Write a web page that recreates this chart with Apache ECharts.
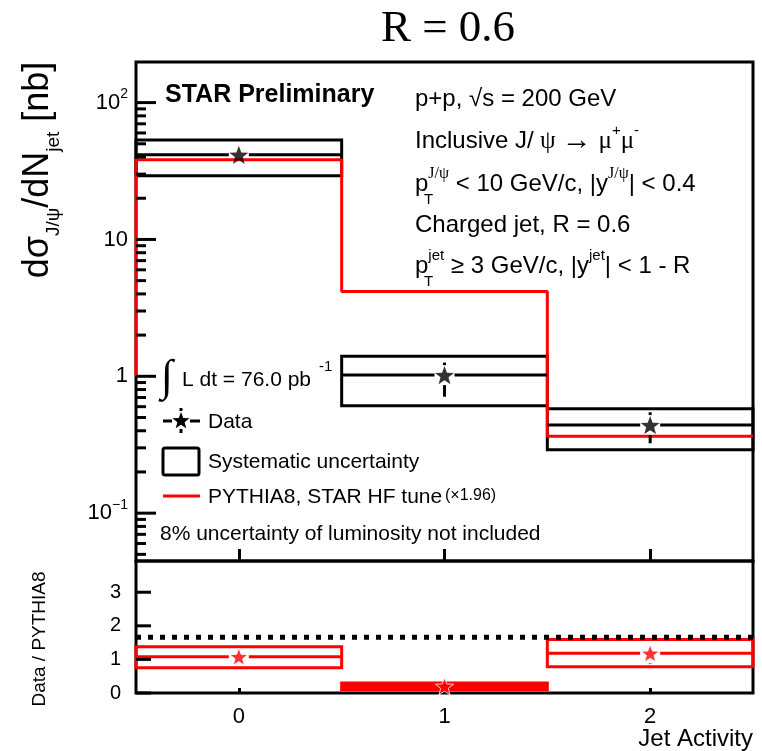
<!DOCTYPE html>
<html>
<head>
<meta charset="utf-8">
<script src="https://cdn.jsdelivr.net/npm/echarts@6/dist/echarts.min.js"></script>
<style>
html, body { margin: 0; padding: 0; background: #fff; }
#main { width: 762px; height: 751px; }
</style>
</head>
<body>
<div id="main"></div>
<script>
// bins of jet activity
var jetActivity = [0, 1, 2];
var binEdges = [-0.5, 0.5, 1.5, 2.5];

// top panel: dsigma/dNjet [nb]
var dataValues = [41.5, 1.02, 0.44];
var statLow = [36.5, 0.71, 0.324];
var statHigh = [46.5, 1.26, 0.546];
var sysLow = [29.2, 0.61, 0.29];
var sysHigh = [53.4, 1.40, 0.58];
var pythiaValues = [38.2, 4.17, 0.365];
var pythiaBase = 1.0;

// bottom panel: Data / PYTHIA8
var ratioValues = [1.08, 0.2, 1.18];
var ratioStatLow = [1.0, 0.15, 0.86];
var ratioStatHigh = [1.16, 0.25, 1.42];
var ratioSysLow = [0.75, 0.1, 0.78];
var ratioSysHigh = [1.38, 0.3, 1.59];
var ratioRefLine = 1.66;

// axis ticks
var xTicks = [0, 1, 2];
var logMajorTicks = [0.1, 1, 10, 100];
var logMinorTicks = [0.05, 0.06, 0.07, 0.08, 0.09,
  0.2, 0.3, 0.4, 0.5, 0.6, 0.7, 0.8, 0.9,
  2, 3, 4, 5, 6, 7, 8, 9,
  20, 30, 40, 50, 60, 70, 80, 90];
var ratioTicks = [0, 1, 2, 3];

var F = 'Liberation Sans';
var SERIF = 'Liberation Serif';
var mychart = echarts.init(document.getElementById('main'));

function starPoints(cx, cy, r) {
  var pts = [];
  for (var i = 0; i < 10; i++) {
    var a = -Math.PI / 2 + i * Math.PI / 5;
    var rr = i % 2 === 0 ? r : r * 0.42;
    pts.push([cx + rr * Math.cos(a), cy + rr * Math.sin(a)]);
  }
  return pts;
}
var starPath = 'path://' + starPoints(50, 50, 50).map(function (p, i) {
  return (i ? 'L' : 'M') + p[0].toFixed(1) + ',' + p[1].toFixed(1);
}).join(' ') + ' Z';

function boxRender(color) {
  return function (params, api) {
    var x = api.value(0);
    var a = api.coord([x - 0.5, api.value(2)]);
    var b = api.coord([x + 0.5, api.value(1)]);
    var h = b[1] - a[1];
    return {
      type: 'rect',
      shape: { x: a[0], y: a[1], width: b[0] - a[0], height: h },
      style: { stroke: color, lineWidth: 3, fill: h < 10 ? color : 'none' }
    };
  };
}

function barsRender(color, gap) {
  return function (params, api) {
    var x = api.value(0), y = api.value(1);
    var c = api.coord([x, y]);
    var l = api.coord([x - 0.5, y]);
    var r = api.coord([x + 0.5, y]);
    var lo = api.coord([x, api.value(2)]);
    var hi = api.coord([x, api.value(3)]);
    var st = { stroke: color, lineWidth: 3 };
    var kids = [
      { type: 'line', shape: { x1: l[0], y1: c[1], x2: c[0] - gap, y2: c[1] }, style: st },
      { type: 'line', shape: { x1: c[0] + gap, y1: c[1], x2: r[0], y2: c[1] }, style: st }
    ];
    if (hi[1] < c[1] - gap) kids.push({ type: 'line', shape: { x1: c[0], y1: hi[1], x2: c[0], y2: c[1] - gap }, style: st });
    if (lo[1] > c[1] + gap) kids.push({ type: 'line', shape: { x1: c[0], y1: c[1] + gap, x2: c[0], y2: lo[1] }, style: st });
    return { type: 'group', children: kids };
  };
}

// short inner ticks for the log axis
function minorTickRender(params, api) {
  var p = api.coord([api.value(0), api.value(1)]);
  return { type: 'line', shape: { x1: p[0], y1: p[1], x2: p[0] + 10, y2: p[1] }, style: { stroke: '#000', lineWidth: 3 } };
}

var pythiaStep = [[binEdges[0], pythiaBase]];
pythiaValues.forEach(function (v, i) {
  pythiaStep.push([binEdges[i], v], [binEdges[i + 1], v]);
});

function zip(a, b, c) {
  return jetActivity.map(function (x, i) {
    var row = [x, a[i], b[i]];
    if (c) row.push(c[i]);
    return row;
  });
}

function logLabel(v) {
  var lg = Math.log10(v);
  var e = Math.round(lg);
  if (Math.abs(lg - e) > 1e-6) return '';
  if (e === 0) return '{b|1}';
  if (e === 1) return '{b|10}';
  return '{b|10}{s|' + (e < 0 ? '\u2212' + (-e) : e) + '}';
}

var axisBlack = { color: '#000', width: 3 };

var rtRich = {
  n: { fontFamily: F, fontSize: 24, lineHeight: 36, verticalAlign: 'middle', fill: '#000' },
  g: { fontFamily: SERIF, fontSize: 25, lineHeight: 36, verticalAlign: 'middle', fill: '#000' },
  a: { fontFamily: SERIF, fontSize: 30, lineHeight: 36, verticalAlign: 'middle', fill: '#000' },
  u: { fontFamily: F, fontSize: 15, lineHeight: 16, verticalAlign: 'top', fill: '#000' },
  ug: { fontFamily: SERIF, fontSize: 16, lineHeight: 16, verticalAlign: 'top', fill: '#000' }
};

function text(x, y, str, size, opts) {
  opts = opts || {};
  return {
    type: 'text', x: x, y: y, rotation: opts.rotation || 0, z: 20,
    style: {
      text: str, fill: '#000',
      fontFamily: opts.family || F, fontSize: size, fontWeight: opts.weight || 'normal',
      align: opts.align || 'left', verticalAlign: 'middle',
      textAlign: opts.align || 'left', textVerticalAlign: 'middle',
      rich: opts.rich
    }
  };
}

var legendStar = starPoints(181, 421, 9);

var graphics = [
  text(448, 29, 'R = 0.6', 45, { family: SERIF, align: 'center' }),
  text(38, 170, '{n|d\u03c3}{d|J/\u03c8}{n|/dN}{d|jet}{n| [nb]}', 36, {
    rotation: Math.PI / 2, align: 'center',
    rich: {
      n: { fontFamily: F, fontSize: 36, lineHeight: 50, verticalAlign: 'middle', fill: '#000' },
      d: { fontFamily: F, fontSize: 19, lineHeight: 20, verticalAlign: 'bottom', fill: '#000' }
    }
  }),
  text(40, 639, 'Data / PYTHIA8', 19, { rotation: Math.PI / 2, align: 'center' }),
  text(753, 739, 'Jet Activity', 24, { align: 'right' }),
  text(165, 95, 'STAR Preliminary', 25, { weight: 'bold' }),
  text(415, 99, '{n|p+p, \u221as = 200 GeV}', 24, { rich: rtRich }),
  text(415, 141, '{n|Inclusive J/}{g| \u03c8 }{a|\u2192}{n| }{g|\u03bc}{u|+}{g|\u03bc}{u|-}', 24, { rich: rtRich }),
  text(415, 184, '{n|p}{ug|J/\u03c8}{n| < 10 GeV/c, |y}{ug|J/\u03c8}{n|| < 0.4}', 24, { rich: rtRich }),
  text(424, 200, 'T', 15),
  text(415, 225, '{n|Charged jet, R = 0.6}', 24, { rich: rtRich }),
  text(415, 266, '{n|p}{u|jet}{n| \u2265 3 GeV/c, |y}{u|jet}{n|| < 1 - R}', 24, { rich: rtRich }),
  text(424, 282, 'T', 15),
  // legend
  text(161, 378, '\u222b', 44, { family: SERIF }),
  text(182, 380, 'L dt = 76.0 pb', 21),
  text(319, 367, '-1', 15),
  { type: 'line', z: 20, shape: { x1: 163, y1: 421, x2: 172, y2: 421 }, style: { stroke: '#000', lineWidth: 3 } },
  { type: 'line', z: 20, shape: { x1: 190, y1: 421, x2: 200, y2: 421 }, style: { stroke: '#000', lineWidth: 3 } },
  { type: 'line', z: 20, shape: { x1: 181, y1: 408, x2: 181, y2: 411 }, style: { stroke: '#000', lineWidth: 3 } },
  { type: 'line', z: 20, shape: { x1: 181, y1: 429, x2: 181, y2: 433 }, style: { stroke: '#000', lineWidth: 3 } },
  { type: 'polygon', z: 21, shape: { points: legendStar }, style: { fill: '#000' } },
  text(208, 422, 'Data', 21),
  { type: 'rect', z: 20, shape: { x: 163, y: 448, width: 36, height: 27, r: 2 }, style: { stroke: '#000', lineWidth: 3, fill: 'none' } },
  text(208, 462, 'Systematic uncertainty', 21),
  { type: 'line', z: 20, shape: { x1: 163, y1: 496, x2: 200, y2: 496 }, style: { stroke: '#ff0000', lineWidth: 3 } },
  text(208, 497, 'PYTHIA8, STAR HF tune', 21),
  text(445, 496, '(\u00d71.96)', 16),
  text(160, 534, '8% uncertainty of luminosity not included', 21)
];

var option = {
  animation: false,
  backgroundColor: '#fff',
  grid: [
    { left: 136, top: 62, width: 617, height: 499, show: true, borderColor: '#000', borderWidth: 3 },
    { left: 136, top: 561, width: 617, height: 132, show: true, borderColor: '#000', borderWidth: 3 }
  ],
  xAxis: [
    {
      type: 'value', gridIndex: 0, min: -0.5, max: 2.5,
      axisLine: { show: false, onZero: false },
      axisTick: { show: true, inside: true, length: 12, customValues: xTicks, lineStyle: axisBlack },
      axisLabel: { show: false },
      splitLine: { show: false }
    },
    {
      type: 'value', gridIndex: 1, min: -0.5, max: 2.5,
      axisLine: { show: false, onZero: false },
      axisTick: { show: true, inside: true, length: 5, customValues: xTicks, lineStyle: axisBlack },
      axisLabel: { customValues: xTicks, fontFamily: F, fontSize: 22, color: '#000', margin: 13 },
      splitLine: { show: false }
    }
  ],
  yAxis: [
    {
      type: 'log', gridIndex: 0, min: 0.0447, max: 198,
      axisLine: { show: false, onZero: false },
      axisTick: { show: false },
      axisLabel: {
        formatter: logLabel, margin: 8, color: '#000',
        rich: {
          b: { fontFamily: F, fontSize: 22, lineHeight: 30, verticalAlign: 'middle', color: '#000' },
          s: { fontFamily: F, fontSize: 14, lineHeight: 16, verticalAlign: 'top', color: '#000' }
        }
      },
      splitLine: { show: false }
    },
    {
      type: 'value', gridIndex: 1, min: 0, max: 3.93, interval: 1,
      axisLine: { show: false, onZero: false },
      axisTick: { show: false },
      axisLabel: { fontFamily: F, fontSize: 20, color: '#000', margin: 15, showMaxLabel: false },
      splitLine: { show: false }
    }
  ],
  graphic: graphics,
  series: [
    {
      type: 'custom', xAxisIndex: 0, yAxisIndex: 0, z: 6,
      renderItem: minorTickRender,
      data: logMinorTicks.map(function (v) { return [binEdges[0], v]; })
    },
    {
      type: 'custom', xAxisIndex: 0, yAxisIndex: 0, z: 2,
      renderItem: boxRender('#000'),
      data: zip(sysLow, sysHigh)
    },
    {
      type: 'line', xAxisIndex: 0, yAxisIndex: 0, z: 3,
      data: pythiaStep, showSymbol: false,
      lineStyle: { color: '#ff0000', width: 3 }
    },
    {
      type: 'custom', xAxisIndex: 0, yAxisIndex: 0, z: 4,
      renderItem: barsRender('#000', 10),
      data: zip(dataValues, statLow, statHigh)
    },
    {
      type: 'scatter', xAxisIndex: 0, yAxisIndex: 0, z: 5,
      symbol: starPath, symbolSize: 19, symbolKeepAspect: true,
      itemStyle: { color: '#000' },
      data: jetActivity.map(function (x, i) { return [x, dataValues[i]]; })
    },
    {
      type: 'line', xAxisIndex: 1, yAxisIndex: 1, z: 3,
      data: [[binEdges[0], ratioRefLine], [binEdges[3], ratioRefLine]], showSymbol: false,
      lineStyle: { color: '#000', width: 5, type: [5, 7] }
    },
    {
      type: 'custom', xAxisIndex: 1, yAxisIndex: 1, z: 2,
      renderItem: boxRender('#ff0000'),
      data: zip(ratioSysLow, ratioSysHigh)
    },
    {
      type: 'custom', xAxisIndex: 1, yAxisIndex: 1, z: 4,
      renderItem: barsRender('#ff0000', 10),
      data: zip(ratioValues, ratioStatLow, ratioStatHigh)
    },
    {
      type: 'scatter', xAxisIndex: 1, yAxisIndex: 1, z: 5,
      symbol: starPath, symbolSize: 18, symbolKeepAspect: true,
      itemStyle: { color: '#ff0000', borderColor: '#fff', borderWidth: 1 },
      data: jetActivity.map(function (x, i) { return [x, ratioValues[i]]; })
    }
  ]
};
mychart.setOption(option);

// long inner ticks at the labelled values, placed through the axes' own scales
function longTicks(finder, values, len) {
  return values.map(function (v) {
    var p = mychart.convertToPixel(finder, [binEdges[0], v]);
    return {
      type: 'line', z: 100, zlevel: 1,
      shape: { x1: p[0], y1: p[1], x2: p[0] + len, y2: p[1] },
      style: { stroke: '#000', lineWidth: 3 }
    };
  });
}
var tickGraphics = longTicks({ xAxisIndex: 0, yAxisIndex: 0 }, logMajorTicks, 20)
  .concat(longTicks({ xAxisIndex: 1, yAxisIndex: 1 }, ratioTicks, 15));
mychart.setOption({ graphic: graphics.concat(tickGraphics) });
</script>
</body>
</html>
